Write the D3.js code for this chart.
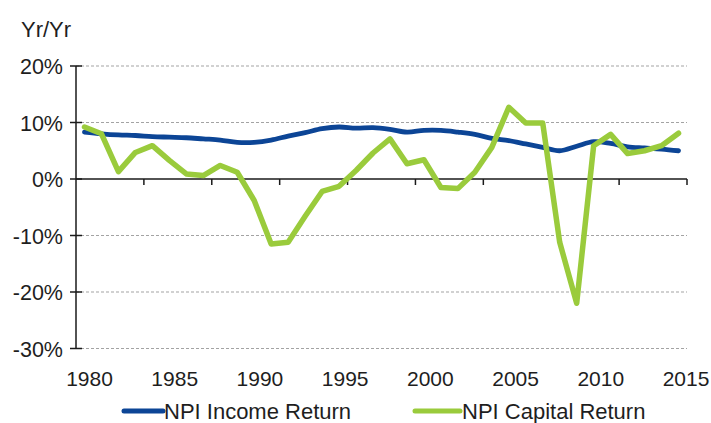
<!DOCTYPE html>
<html>
<head>
<meta charset="utf-8">
<script src="https://cdn.jsdelivr.net/npm/d3@7"></script>
<style>
  html, body { margin: 0; padding: 0; background: #ffffff; }
  svg { display: block; }
  text { font-family: "Liberation Sans", Arial, sans-serif; fill: #1e1e1e; }
</style>
</head>
<body>
<svg id="chart" width="711" height="423"></svg>
<script>
// ---------- data ----------
const years = d3.range(1980, 2016); // 1980 ... 2015 (36 annual categories)
const incomeReturn = [
  8.3, 8.0, 7.8, 7.7, 7.5, 7.4, 7.3, 7.1, 6.9, 6.5,
  6.5, 6.9, 7.6, 8.2, 8.9, 9.2, 9.0, 9.1, 8.8, 8.3,
  8.6, 8.6, 8.3, 7.9, 7.2, 6.8, 6.2, 5.6, 5.0, 5.8,
  6.6, 6.3, 5.7, 5.5, 5.3, 5.0
];
const capitalReturn = [
  9.2, 8.0, 1.3, 4.7, 5.9, 3.3, 0.9, 0.6, 2.4, 1.2,
  -3.8, -11.5, -11.2, -6.6, -2.2, -1.3, 1.5, 4.6, 7.1, 2.7,
  3.4, -1.5, -1.7, 1.2, 5.6, 12.7, 9.9, 9.9, -11.2, -22.0,
  5.9, 7.9, 4.5, 5.0, 5.9, 8.1
];
const yTicks = [20, 10, 0, -10, -20, -30];
const xLabels = [1980, 1985, 1990, 1995, 2000, 2005, 2010, 2015];
const seriesNames = ["NPI Income Return", "NPI Capital Return"];
const seriesColors = ["#0c4596", "#9acb3c"];

// ---------- layout ----------
const svg = d3.select("#chart");
const plotL = 76, plotR = 687, plotT = 66, plotB = 348.5;

const x = d3.scaleBand().domain(years).range([plotL, plotR]).paddingInner(0).paddingOuter(0);
const cx = d => x(d) + x.bandwidth() / 2;
const y = d3.scaleLinear().domain([-30, 20]).range([plotB, plotT]);
// year labels sit on their own scale (as in the original picture)
const xl = d3.scaleLinear().domain([1980, 2015]).range([89.5, 686]);

// gridlines (dashed)
svg.append("g").selectAll("line")
  .data(yTicks.filter(v => v !== 0))
  .join("line")
  .attr("x1", plotL).attr("x2", plotR)
  .attr("y1", d => y(d)).attr("y2", d => y(d))
  .attr("stroke", "#a3a3a3").attr("stroke-width", 1.2)
  .attr("stroke-dasharray", "3,2");

// y axis
const yAxis = d3.axisLeft(y).tickValues(yTicks).tickSize(0).tickFormat(d => d + "%");
const gy = svg.append("g").attr("transform", `translate(${plotL},0)`).call(yAxis);
gy.select(".domain").remove();
gy.selectAll("text").attr("x", -13).attr("dy", "0.36em")
  .style("font-size", "21.5px").style("fill", "#1e1e1e")
  .style("font-family", "'Liberation Sans', Arial, sans-serif");
svg.append("line").attr("x1", plotL).attr("x2", plotL).attr("y1", y(20)).attr("y2", y(-30))
  .attr("stroke", "#1a1a1a").attr("stroke-width", 1.5);
svg.append("g").selectAll("line").data(yTicks).join("line")
  .attr("x1", plotL - 6).attr("x2", plotL + 6)
  .attr("y1", d => y(d)).attr("y2", d => y(d))
  .attr("stroke", "#1a1a1a").attr("stroke-width", 1.5);

// zero line + category ticks every 4 categories
svg.append("line").attr("x1", plotL).attr("x2", plotR).attr("y1", y(0)).attr("y2", y(0))
  .attr("stroke", "#1a1a1a").attr("stroke-width", 1.5);
const tickIdx = d3.range(4, 37, 4);
svg.append("g").selectAll("line").data(tickIdx).join("line")
  .attr("x1", i => i < years.length ? x(years[i]) : x.range()[1])
  .attr("x2", i => i < years.length ? x(years[i]) : x.range()[1])
  .attr("y1", y(0)).attr("y2", y(0) + 6)
  .attr("stroke", "#1a1a1a").attr("stroke-width", 1.5);

// year labels
svg.append("g").selectAll("text").data(xLabels).join("text")
  .attr("x", d => xl(d)).attr("y", 386)
  .attr("text-anchor", "middle")
  .style("font-size", "21px")
  .text(d => d);

// y-axis title
svg.append("text").attr("x", 21).attr("y", 37).style("font-size", "22px").text("Yr/Yr");

// lines
const incomeLine = d3.line().x((d, i) => cx(years[i])).y(d => y(d)).curve(d3.curveCatmullRom.alpha(0.5));
const capitalLine = d3.line().x((d, i) => cx(years[i])).y(d => y(d));

svg.append("path").datum(incomeReturn).attr("d", incomeLine)
  .attr("fill", "none").attr("stroke", seriesColors[0]).attr("stroke-width", 4.8)
  .attr("stroke-linejoin", "round").attr("stroke-linecap", "round");
svg.append("path").datum(capitalReturn).attr("d", capitalLine)
  .attr("fill", "none").attr("stroke", seriesColors[1]).attr("stroke-width", 5.5)
  .attr("stroke-linejoin", "round").attr("stroke-linecap", "round");

// legend
const legendX = [124, 415];
const legend = svg.append("g").selectAll("g").data(seriesNames).join("g")
  .attr("transform", (d, i) => `translate(${legendX[i]},411)`);
legend.append("line").attr("x1", 0).attr("x2", (d, i) => i === 0 ? 39 : 45)
  .attr("y1", 0).attr("y2", 0)
  .attr("stroke", (d, i) => seriesColors[i]).attr("stroke-width", 5).attr("stroke-linecap", "round");
legend.append("text").attr("x", (d, i) => i === 0 ? 40 : 47).attr("y", 0).attr("dy", "0.36em")
  .style("font-size", "22px").text(d => d);
</script>
</body>
</html>
